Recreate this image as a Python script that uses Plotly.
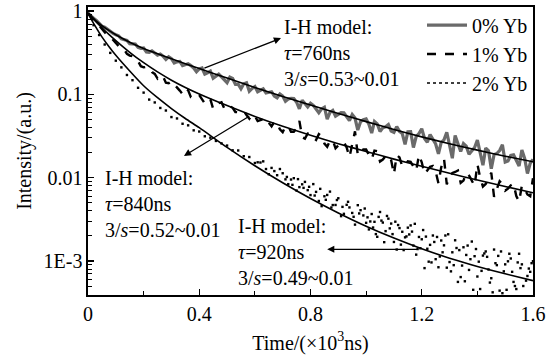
import numpy as np
import plotly.graph_objects as go

# ---------------- data ----------------
t_even = [0.00, 0.02, 0.04, 0.06, 0.08, 0.10, 0.12, 0.14, 0.16, 0.18,
          0.20, 0.22, 0.24, 0.26, 0.28, 0.30, 0.32, 0.34, 0.36, 0.38,
          0.40, 0.42, 0.44, 0.46, 0.48, 0.50, 0.52, 0.54, 0.56, 0.58,
          0.60, 0.62, 0.64, 0.66, 0.68, 0.70, 0.72, 0.74, 0.76, 0.78,
          0.80, 0.82, 0.84, 0.86, 0.88, 0.90, 0.92, 0.94, 0.96, 0.98,
          1.00, 1.02, 1.04, 1.06, 1.08, 1.10, 1.12, 1.14, 1.16, 1.18,
          1.20, 1.22, 1.24, 1.26, 1.28, 1.30, 1.32, 1.34, 1.36, 1.38,
          1.40, 1.42, 1.44, 1.46, 1.48, 1.50, 1.52, 1.54, 1.56, 1.58, 1.60]
t_odd = [0.01, 0.03, 0.05, 0.07, 0.09, 0.11, 0.13, 0.15, 0.17, 0.19,
         0.21, 0.23, 0.25, 0.27, 0.29, 0.31, 0.33, 0.35, 0.37, 0.39,
         0.41, 0.43, 0.45, 0.47, 0.49, 0.51, 0.53, 0.55, 0.57, 0.59,
         0.61, 0.63, 0.65, 0.67, 0.69, 0.71, 0.73, 0.75, 0.77, 0.79,
         0.81, 0.83, 0.85, 0.87, 0.89, 0.91, 0.93, 0.95, 0.97, 0.99,
         1.01, 1.03, 1.05, 1.07, 1.09, 1.11, 1.13, 1.15, 1.17, 1.19,
         1.21, 1.23, 1.25, 1.27, 1.29, 1.31, 1.33, 1.35, 1.37, 1.39,
         1.41, 1.43, 1.45, 1.47, 1.49, 1.51, 1.53, 1.55, 1.57, 1.59]

# 0% Yb measured decay
i_0pct_even = [0.946, 0.823, 0.707, 0.641, 0.562, 0.52, 0.465, 0.445, 0.40, 0.366,
               0.36, 0.319, 0.314, 0.305, 0.263, 0.268, 0.246, 0.221, 0.233, 0.207,
               0.202, 0.175, 0.19, 0.165, 0.162, 0.138, 0.155, 0.133, 0.134, 0.109,
               0.124, 0.113, 0.104, 0.1076, 0.091, 0.0955, 0.088, 0.0893, 0.0672, 0.0782,
               0.0781, 0.0667, 0.0669, 0.0505, 0.0642, 0.0575, 0.0602, 0.0483, 0.052, 0.0468,
               0.0507, 0.0343, 0.0443, 0.0397, 0.0434, 0.0349, 0.036, 0.0251, 0.0356, 0.0312,
               0.0386, 0.0266, 0.0293, 0.0193, 0.0284, 0.0245, 0.0321, 0.0206, 0.0239, 0.0207,
               0.0282, 0.0141, 0.021, 0.0189, 0.0212, 0.0154, 0.0185, 0.0157, 0.0215, 0.0112, 0.0166]
i_0pct_odd = [0.869, 0.771, 0.66, 0.603, 0.541, 0.504, 0.451, 0.407, 0.402, 0.357,
              0.322, 0.333, 0.296, 0.288, 0.283, 0.238, 0.249, 0.227, 0.222, 0.187,
              0.207, 0.181, 0.156, 0.175, 0.15, 0.161, 0.132, 0.117, 0.138, 0.118,
              0.1075, 0.1163, 0.1049, 0.0957, 0.1013, 0.0826, 0.0898, 0.0805, 0.0848, 0.0707,
              0.0739, 0.0602, 0.0702, 0.0606, 0.0547, 0.0605, 0.0544, 0.0572, 0.0373, 0.0496,
              0.0437, 0.0473, 0.0359, 0.0409, 0.0363, 0.041, 0.0338, 0.0355, 0.023, 0.0338,
              0.0295, 0.0329, 0.0254, 0.0265, 0.0351, 0.0171, 0.0248, 0.0256, 0.0191, 0.023,
              0.0199, 0.0227, 0.0128, 0.0195, 0.0248, 0.0159, 0.0188, 0.0138, 0.017, 0.0149]

# 1% Yb measured decay
i_1pct_even = [0.945, 0.778, 0.668, 0.557, 0.492, 0.411, 0.372, 0.307, 0.287, 0.25,
               0.211, 0.208, 0.176, 0.169, 0.138, 0.144, 0.122, 0.101, 0.112, 0.0916,
               0.098, 0.0777, 0.0871, 0.0717, 0.0805, 0.0655, 0.069, 0.061, 0.0636, 0.051,
               0.0548, 0.0488, 0.0516, 0.0412, 0.0449, 0.0351, 0.0413, 0.0356, 0.0481, 0.0294,
               0.0336, 0.0284, 0.0315, 0.0235, 0.0282, 0.0243, 0.0268, 0.0176, 0.036, 0.0192,
               0.0218, 0.0166, 0.0208, 0.0165, 0.0187, 0.011, 0.0175, 0.0142, 0.0155, 0.0121,
               0.0153, 0.0124, 0.0138, 0.00854, 0.017, 0.0104, 0.0117, 0.00866, 0.0115, 0.0092,
               0.0145, 0.00781, 0.00954, 0.00587, 0.00907, 0.00699, 0.00809, 0.00602, 0.00804, 0.00628, 0.00987]
i_1pct_odd = [0.858, 0.71, 0.613, 0.512, 0.454, 0.381, 0.346, 0.292, 0.268, 0.218,
              0.214, 0.185, 0.155, 0.163, 0.136, 0.132, 0.111, 0.117, 0.0927, 0.0998,
              0.0862, 0.0872, 0.0672, 0.0784, 0.0681, 0.0718, 0.0614, 0.0618, 0.0564, 0.0577,
              0.0478, 0.0501, 0.0455, 0.0471, 0.0381, 0.0412, 0.0356, 0.0391, 0.0307, 0.0339,
              0.0299, 0.0333, 0.0257, 0.0278, 0.0225, 0.0265, 0.023, 0.0262, 0.0187, 0.0218,
              0.0187, 0.0211, 0.0156, 0.0182, 0.0162, 0.0187, 0.0136, 0.0157, 0.0136, 0.0188,
              0.0111, 0.0135, 0.0119, 0.0133, 0.00828, 0.0114, 0.0122, 0.00921, 0.0106, 0.00797,
              0.01005, 0.00841, 0.0115, 0.00714, 0.00835, 0.00737, 0.00846, 0.00516, 0.00733, 0.00599]

# 2% Yb measured decay (scattered points)
i_2pct = [0.915, 0.678, 0.516, 0.397, 0.315, 0.254, 0.211, 0.171, 0.148, 0.12,
          0.105, 0.0866, 0.08, 0.0687, 0.064, 0.0534, 0.0514, 0.0444, 0.0425, 0.037,
          0.0358, 0.0314, 0.0302, 0.0276, 0.0258, 0.0243, 0.0213, 0.0212, 0.0181, 0.0177,
          0.015, 0.0152, 0.0127, 0.0131, 0.0107, 0.0113, 0.00836, 0.00986, 0.0077, 0.0089,
          0.00618, 0.00675, 0.00455, 0.0062, 0.00469, 0.00566, 0.00368, 0.00439, 0.00273, 0.00407,
          0.00287, 0.00366, 0.00195, 0.00289, 0.00322, 0.00169, 0.00248, 0.00192, 0.00267, 0.00119,
          0.00182, 0.0014, 0.00202, 0.00084, 0.00154, 0.00097, 0.00177, 0.00064, 0.00118, 0.00171,
          0.00065, 0.00116, 0.00079, 0.00137, 0.00044, 0.00091, 0.00107, 0.00046, 0.00091, 0.00066, 0.00099]
t_2pct_b = t_odd[30:]
i_2pct_b = [0.0153, 0.0157, 0.011, 0.012, 0.0127, 0.00955, 0.0095, 0.007, 0.00832, 0.00708,
            0.00837, 0.00525, 0.00598, 0.0068, 0.0047, 0.00345, 0.00472, 0.00377, 0.00467, 0.00352,
            0.00239, 0.00295, 0.00387, 0.00228, 0.00281, 0.00137, 0.00224, 0.00251, 0.00153, 0.00194,
            0.00082, 0.00156, 0.00105, 0.00176, 0.00083, 0.00127, 0.00056, 0.00146, 0.00078, 0.00114,
            0.00046, 0.0013, 0.00062, 0.00089, 0.00041, 0.00099, 0.00056, 0.00122, 0.00037, 0.00074]
t_2pct_c = [1.005, 1.025, 1.045, 1.065, 1.085, 1.105, 1.125, 1.145, 1.165, 1.185,
            1.205, 1.225, 1.245, 1.265, 1.285, 1.305, 1.325, 1.345, 1.365, 1.385,
            1.405, 1.425, 1.445, 1.465, 1.485, 1.505, 1.525, 1.545, 1.565, 1.585]
i_2pct_c = [0.00334, 0.00252, 0.00338, 0.00168, 0.00246, 0.00296, 0.00157, 0.00197, 0.00225, 0.00139,
            0.00235, 0.00098, 0.00169, 0.00113, 0.00202, 0.00075, 0.00143, 0.00088, 0.00153, 0.00045,
            0.00098, 0.00123, 0.00055, 0.00094, 0.0013, 0.00045, 0.00074, 0.00096, 0.0005, 0.00081]
t_2pct_d = [0.715, 0.735, 0.755, 0.775, 0.795, 0.815, 0.835, 0.855, 0.875, 0.895,
            0.915, 0.935, 0.955, 0.975, 0.995, 1.015, 1.035, 1.055, 1.075, 1.095,
            1.115, 1.135, 1.155, 1.175, 1.195, 1.215, 1.235, 1.255, 1.275, 1.295,
            1.315, 1.335, 1.355, 1.375, 1.395, 1.415, 1.435, 1.455, 1.475, 1.495,
            1.515, 1.535, 1.555, 1.575, 1.595]
i_2pct_d = [0.0102, 0.0082, 0.0096, 0.00754, 0.00776, 0.0061, 0.00734, 0.00542, 0.00438, 0.00539,
            0.00446, 0.00513, 0.00339, 0.00372, 0.00426, 0.00298, 0.0021, 0.00305, 0.00347, 0.0021,
            0.0027, 0.00135, 0.00208, 0.00279, 0.00142, 0.00196, 0.00096, 0.00194, 0.00127, 0.00209,
            0.00089, 0.00135, 0.00057, 0.00105, 0.00139, 0.00076, 0.00112, 0.00042, 0.00115, 0.00075,
            0.00122, 0.0005, 0.00082, 0.00058, 0.00094]

# I-H model fitted curves
t_fit = [0, 0.025, 0.05, 0.075, 0.1, 0.15, 0.2, 0.25, 0.3, 0.35, 0.4, 0.5, 0.6,
         0.7, 0.8, 0.9, 1.0, 1.1, 1.2, 1.3, 1.4, 1.5, 1.6]
fit_0pct = [0.946, 0.785, 0.67, 0.586, 0.52, 0.423, 0.356, 0.308, 0.268, 0.233, 0.204,
            0.157, 0.121, 0.0946, 0.0745, 0.059, 0.0471, 0.0379, 0.0309, 0.0255, 0.0214,
            0.0181, 0.0155]
fit_1pct = [0.955, 0.767, 0.631, 0.525, 0.442, 0.32, 0.24, 0.186, 0.148, 0.121, 0.101,
            0.0733, 0.0543, 0.0414, 0.0323, 0.0256, 0.0206, 0.0167, 0.0137, 0.0113, 0.00935,
            0.00782, 0.00658]
fit_2pct = [0.933, 0.668, 0.49, 0.376, 0.295, 0.191, 0.127, 0.0912, 0.0676, 0.0513, 0.0398,
            0.0231, 0.0139, 0.00869, 0.00562, 0.00377, 0.00261, 0.00188, 0.0014, 0.00108,
            0.00086, 0.0007, 0.00058]

series_names = ["0% Yb", "1% Yb", "2% Yb"]
x_ticks = [0, 0.4, 0.8, 1.2, 1.6]
x_ticktext = ["0", "0.4", "0.8", "1.2", "1.6"]
y_ticks = [1, 0.1, 0.01, 0.001]
y_ticktext = ["1", "0.1", "0.01", "1E-3"]

ann_texts = ["I-H model:<br><i>τ</i>=760ns<br>3/<i>s</i>=0.53~0.01",
             "I-H model:<br><i>τ</i>=840ns<br>3/<i>s</i>=0.52~0.01",
             "I-H model:<br><i>τ</i>=920ns<br>3/<i>s</i>=0.49~0.01"]
arrow_tail = [(0.413, 0.203), (0.585, 0.056), (1.19, 0.00138)]
arrow_head = [(0.694, 0.474), (0.345, 0.0182), (0.86, 0.00138)]


def merged(ta, ya, tb, yb):
    pts = sorted(zip(list(ta) + list(tb), list(ya) + list(yb)))
    return [p[0] for p in pts], [p[1] for p in pts]


t0, y0 = merged(t_even, i_0pct_even, t_odd, i_0pct_odd)
t1, y1 = merged(t_even, i_1pct_even, t_odd, i_1pct_odd)
t2 = t_even + t_2pct_b + t_2pct_c + t_2pct_d
y2 = i_2pct + i_2pct_b + i_2pct_c + i_2pct_d

# ---------------- figure ----------------
FONT = "Liberation Serif, Times New Roman, serif"
fig = go.Figure()

fig.add_trace(go.Scatter(x=t0, y=y0, mode="lines", name=series_names[0],
                         line=dict(color="#6a6a6a", width=3.2)))
fig.add_trace(go.Scatter(x=t1, y=y1, mode="lines", name=series_names[1],
                         line=dict(color="black", width=2.4, dash="dash")))
fig.add_trace(go.Scatter(x=t2, y=y2, mode="markers", showlegend=False,
                         marker=dict(color="black", size=2.4, symbol="square")))
fig.add_trace(go.Scatter(x=[None], y=[None], mode="lines", name=series_names[2],
                         line=dict(color="black", width=1.5, dash="dot")))

for f in (fit_0pct, fit_1pct, fit_2pct):
    fig.add_trace(go.Scatter(x=t_fit, y=f, mode="lines", showlegend=False,
                             line=dict(color="black", width=1.6, shape="spline", smoothing=0.6)))

L, R, T, B = 88, 16, 7, 68
W, H = 549, 363
pw, ph = W - L - R, H - T - B
text_pos = [(282, 53), (103, 204), (236, 252)]
for txt, (px, py) in zip(ann_texts, text_pos):
    fig.add_annotation(x=(px - L) / pw, y=(H - B - py) / ph, xref="paper", yref="paper",
                       text=txt, showarrow=False, xanchor="left", yanchor="middle",
                       align="left", font=dict(family=FONT, size=20, color="black"))

for (tx, ty), (hx, hy) in zip(arrow_tail, arrow_head):
    fig.add_annotation(x=hx, y=np.log10(hy), ax=tx, ay=np.log10(ty),
                       xref="x", yref="y", axref="x", ayref="y", text="",
                       showarrow=True, arrowhead=2, arrowsize=1.1, arrowwidth=1.3,
                       arrowcolor="black", standoff=0, startstandoff=0)

minor_y = [m * 10.0 ** e for e in (-4, -3, -2, -1) for m in range(2, 10) if m * 10.0 ** e > 3.9e-4]

fig.update_layout(
    width=W, height=H,
    margin=dict(l=L, r=R, t=T, b=B, autoexpand=False),
    paper_bgcolor="white", plot_bgcolor="white",
    font=dict(family=FONT, size=20, color="black"),
    legend=dict(x=1, xanchor="right", y=1.005, yanchor="top", bgcolor="rgba(0,0,0,0)",
                font=dict(family=FONT, size=20, color="black"), itemwidth=40,
                tracegroupgap=0, borderwidth=0),
    showlegend=True,
)
fig.update_xaxes(range=[0, 1.6], tickvals=x_ticks, ticktext=x_ticktext, automargin=False,
                 ticks="inside", ticklen=6, tickwidth=1.3, tickcolor="black",
                 minor=dict(tickvals=[0.2, 0.6, 1.0, 1.4], ticks="inside", ticklen=4,
                            tickwidth=1, tickcolor="black"),
                 showline=True, linewidth=1.6, linecolor="black", mirror=True,
                 showgrid=False, zeroline=False,
                 title=dict(text="Time/(×10<sup>3</sup>ns)", font=dict(size=20), standoff=12),
                 tickfont=dict(size=20, color="black"))
fig.update_yaxes(type="log", range=[np.log10(3.9e-4), np.log10(1.12)], automargin=False,
                 tickvals=y_ticks, ticktext=y_ticktext,
                 ticks="inside", ticklen=6, tickwidth=1.3, tickcolor="black",
                 minor=dict(tickvals=minor_y, ticks="inside", ticklen=3.5,
                            tickwidth=1, tickcolor="black"),
                 showline=True, linewidth=1.6, linecolor="black", mirror=True,
                 showgrid=False, zeroline=False,
                 title=dict(text="Intensity/(a.u.)", font=dict(size=20), standoff=6),
                 tickfont=dict(size=20, color="black"))

fig.write_html("out.html", config={"displayModeBar": False, "staticPlot": True},
               post_script="document.body.style.margin='0px';document.body.style.overflow='hidden';")
